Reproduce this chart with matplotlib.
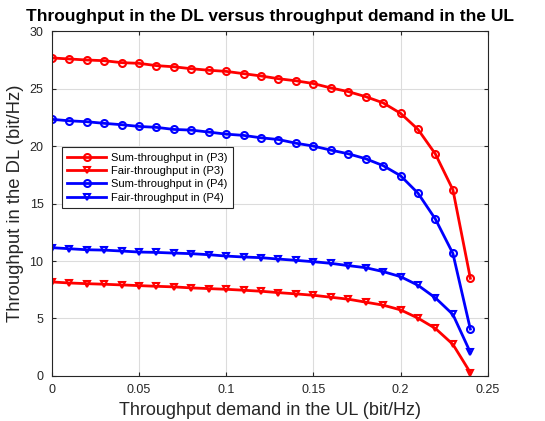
import matplotlib.pyplot as plt
import numpy as np

plt.rcParams['font.family'] = ['Liberation Sans', 'DejaVu Sans']

ul_demand = [0.00, 0.01, 0.02, 0.03, 0.04, 0.05, 0.06, 0.07, 0.08, 0.09,
             0.10, 0.11, 0.12, 0.13, 0.14, 0.15, 0.16, 0.17, 0.18, 0.19,
             0.20, 0.21, 0.22, 0.23, 0.24]

sum_p3 = [27.67, 27.58, 27.49, 27.43, 27.26, 27.20, 27.00, 26.90, 26.73, 26.60,
          26.50, 26.30, 26.10, 25.86, 25.68, 25.44, 25.06, 24.74, 24.30, 23.76,
          22.85, 21.45, 19.30, 16.20, 8.50]
fair_p3 = [8.18, 8.09, 8.03, 7.98, 7.92, 7.86, 7.80, 7.75, 7.66, 7.60,
           7.54, 7.46, 7.37, 7.25, 7.14, 7.02, 6.85, 6.68, 6.42, 6.16,
           5.75, 5.03, 4.13, 2.75, 0.29]
sum_p4 = [22.33, 22.20, 22.12, 21.98, 21.86, 21.71, 21.63, 21.45, 21.39, 21.22,
          21.04, 20.93, 20.72, 20.57, 20.25, 20.00, 19.65, 19.33, 18.90, 18.30,
          17.42, 15.90, 13.64, 10.66, 4.08]
fair_p4 = [11.16, 11.07, 10.98, 10.95, 10.87, 10.78, 10.75, 10.69, 10.64, 10.55,
           10.43, 10.35, 10.29, 10.17, 10.06, 9.94, 9.80, 9.60, 9.42, 9.08,
           8.64, 7.89, 6.79, 5.35, 2.05]

fig = plt.figure(figsize=(5.45, 4.21), dpi=100)
ax = fig.add_axes([0.095, 0.107, 0.80, 0.819])

style = dict(linewidth=2, markersize=5, markeredgewidth=1.5, markerfacecolor='none')
ax.plot(ul_demand, sum_p3, color='red', marker='o', label='Sum-throughput in (P3)', **style)
ax.plot(ul_demand, fair_p3, color='red', marker='v', label='Fair-throughput in (P3)', **style)
ax.plot(ul_demand, sum_p4, color='blue', marker='o', label='Sum-throughput in (P4)', **style)
ax.plot(ul_demand, fair_p4, color='blue', marker='v', label='Fair-throughput in (P4)', **style)

ax.set_xlim(0, 0.25)
ax.set_ylim(0, 30)
ax.set_xticks([0, 0.05, 0.1, 0.15, 0.2, 0.25])
ax.set_xticklabels(['0', '0.05', '0.1', '0.15', '0.2', '0.25'])
ax.set_yticks([0, 5, 10, 15, 20, 25, 30])
ax.grid(True, color='#dcdcdc', linewidth=0.8)
ax.set_axisbelow(True)
ax.tick_params(direction='in', labelsize=9, colors='#262626', length=3, top=True, right=True, pad=6)
for s in ax.spines.values():
    s.set_color('#262626')
    s.set_linewidth(0.8)

ax.set_title('Throughput in the DL versus throughput demand in the UL',
             fontsize=12.5, fontweight='bold', pad=7)
ax.set_xlabel('Throughput demand in the UL (bit/Hz)', fontsize=13, color='#262626', labelpad=4)
ax.set_ylabel('Throughput in the DL (bit/Hz)', fontsize=13.3, color='#262626', labelpad=4)

leg = ax.legend(loc='upper left', bbox_to_anchor=(0.023, 0.664), fontsize=8,
                fancybox=False, edgecolor='#262626', framealpha=1, borderaxespad=0,
                handlelength=3.5, borderpad=0.5, labelspacing=0.3, handletextpad=0.4)
leg.get_frame().set_linewidth(0.8)

fig.savefig('out.png', dpi=100)
